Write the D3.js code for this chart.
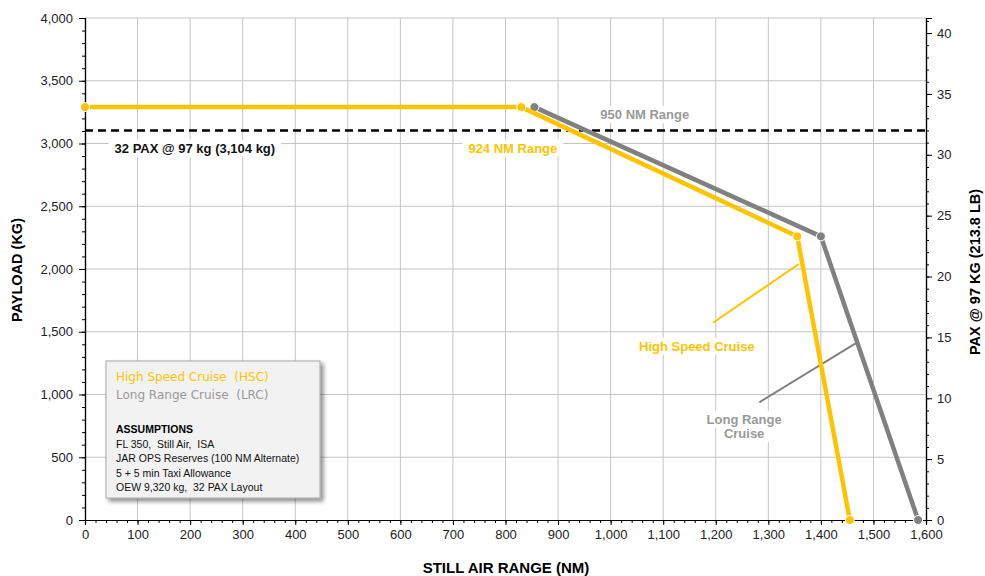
<!DOCTYPE html>
<html><head><meta charset="utf-8">
<script src="https://cdn.jsdelivr.net/npm/d3@7"></script>
<style>
html,body{margin:0;padding:0;background:#fff;}
svg{display:block;font-family:"Liberation Sans",Arial,sans-serif;}
</style></head>
<body>
<svg id="chart" width="985" height="576"></svg>
<script>
// ---- data ----
const hscRange   = [0, 830, 1355, 1455];
const hscPayload = [3290, 3290, 2260, 0];
const lrcRange   = [855, 1400, 1585];
const lrcPayload = [3290, 2260, 0];
const paxLimitKg = 3104;
const paxMassKg  = 97;
const xTicks = [0,100,200,300,400,500,600,700,800,900,1000,1100,1200,1300,1400,1500,1600];
const yTicks = [0,500,1000,1500,2000,2500,3000,3500,4000];
const paxTicks = [0,5,10,15,20,25,30,35,40];
const assumptions = ["FL 350,  Still Air,  ISA","JAR OPS Reserves (100 NM Alternate)","5 + 5 min Taxi Allowance","OEW 9,320 kg,  32 PAX Layout"];

const YEL = "#FFC400", GRY = "#808080", GTXT = "#999999";
const svg = d3.select("#chart");
const L = 85, R = 926, T = 18, B = 520;
const x = d3.scaleLinear().domain([0,1600]).range([L,R]);
const y = d3.scaleLinear().domain([0,4000]).range([B,T]);
const y2 = d3.scaleLinear().domain([0,4000/paxMassKg]).range([B,T]);

const defs = svg.append("defs");
const f = defs.append("filter").attr("id","sh").attr("x","-10%").attr("y","-10%").attr("width","130%").attr("height","130%");
f.append("feDropShadow").attr("dx",3).attr("dy",3).attr("stdDeviation",2).attr("flood-color","#000").attr("flood-opacity",0.45);

// grid
const g = svg.append("g");
g.selectAll(".vg").data(xTicks.filter(d=>d>0 && d<1600)).join("line")
  .attr("x1",d=>x(d)).attr("x2",d=>x(d)).attr("y1",T).attr("y2",B)
  .attr("stroke","#c4c4c4").attr("stroke-width",1);
g.selectAll(".hg").data(yTicks.filter(d=>d>0)).join("line")
  .attr("x1",L).attr("x2",R).attr("y1",d=>y(d)).attr("y2",d=>y(d))
  .attr("stroke","#c4c4c4").attr("stroke-width",1);

// axes
function styleAxis(sel){
  sel.select(".domain").attr("stroke","#000").attr("stroke-width",1.2);
  sel.selectAll(".tick line").attr("stroke","#000");
  sel.selectAll(".tick text").attr("fill","#222").style("font-size","13px").style("font-family","'Liberation Sans',Arial,sans-serif");
}
const minorX = d3.range(0,1601,20), minorY = d3.range(0,4001,100), minorP = d3.range(0,42,1);
svg.append("g").attr("transform",`translate(0,${B})`).call(d3.axisBottom(x).tickValues(minorX).tickSize(3).tickFormat("")).call(styleAxis);
svg.append("g").attr("transform",`translate(${L},0)`).call(d3.axisLeft(y).tickValues(minorY).tickSize(3).tickFormat("")).call(styleAxis);
svg.append("g").attr("transform",`translate(${R},0)`).call(d3.axisRight(y2).tickValues(minorP).tickSize(3).tickFormat("")).call(styleAxis);

const fmt = d3.format(",");
svg.append("g").attr("transform",`translate(0,${B})`).call(d3.axisBottom(x).tickValues(xTicks).tickSize(5).tickPadding(5).tickFormat(fmt)).call(styleAxis);
svg.append("g").attr("transform",`translate(${L},0)`).call(d3.axisLeft(y).tickValues(yTicks).tickSize(6).tickPadding(6).tickFormat(fmt)).call(styleAxis);
svg.append("g").attr("transform",`translate(${R},0)`).call(d3.axisRight(y2).tickValues(paxTicks).tickSize(6).tickPadding(5).tickFormat(d3.format("d"))).call(styleAxis);

// axis titles
svg.append("text").attr("x",506).attr("y",573).attr("text-anchor","middle")
  .style("font-weight","bold").style("font-size","15px").attr("fill","#000").text("STILL AIR RANGE (NM)");
svg.append("text").attr("transform","translate(22,270) rotate(-90)").attr("text-anchor","middle")
  .style("font-weight","bold").style("font-size","14.5px").attr("fill","#000").text("PAYLOAD (KG)");
svg.append("text").attr("transform","translate(980,272) rotate(-90)").attr("text-anchor","middle")
  .style("font-weight","bold").style("font-size","14.5px").attr("fill","#000").text("PAX @ 97 KG (213.8 LB)");

// labels with white background
const bgLayer = svg.append("g"), txtLayer = svg.append("g");
function label(txt, cx, cy, color){
  const t = txtLayer.append("text").attr("x",x(cx)).attr("y",y(cy)).attr("text-anchor","middle")
    .style("font-weight","bold").style("font-size","13px").attr("fill",color).text(txt);
  const bb = t.node().getBBox();
  bgLayer.append("rect").attr("x",bb.x-6).attr("y",bb.y-1).attr("width",bb.width+12).attr("height",bb.height+2).attr("fill","#fff");
  return t;
}
label("32 PAX @ 97 kg (3,104 kg)", 209, 2927, "#111");
label("950 NM Range", 1065, 3195, GTXT);
label("924 NM Range", 814, 2927, YEL);
label("High Speed Cruise", 1164, 1349, YEL);
label("Long Range", 1254, 765, GTXT);
label("Cruise", 1254, 653, GTXT);

// dashed PAX limit
svg.append("line").attr("x1",x(0)).attr("x2",x(1600)).attr("y1",y(paxLimitKg)).attr("y2",y(paxLimitKg))
  .attr("stroke","#000").attr("stroke-width",2.6).attr("stroke-dasharray","8,5");

// leader lines
svg.append("line").attr("x1",x(1195)).attr("y1",y(1572)).attr("x2",x(1358)).attr("y2",y(2040)).attr("stroke",YEL).attr("stroke-width",2);
svg.append("line").attr("x1",x(1283)).attr("y1",y(938)).attr("x2",x(1466)).attr("y2",y(1408)).attr("stroke",GRY).attr("stroke-width",2);

// series
const line = d3.line().x(d=>x(d[0])).y(d=>y(d[1]));
function series(rs, ps, color){
  const pts = rs.map((r,i)=>[r, ps[i]]);
  svg.append("path").datum(pts).attr("d",line).attr("fill","none").attr("stroke",color).attr("stroke-width",4.5).attr("stroke-linejoin","round");
  svg.append("g").selectAll("circle").data(pts).join("circle")
    .attr("cx",d=>x(d[0])).attr("cy",d=>y(d[1])).attr("r",4.5).attr("fill",color).attr("stroke","#fff").attr("stroke-width",1);
}
series(lrcRange, lrcPayload, GRY);
series(hscRange, hscPayload, YEL);

// legend box
const lg = svg.append("g");
lg.append("rect").attr("x",106).attr("y",361).attr("width",214).attr("height",137)
  .attr("fill","#f2f2f2").attr("stroke","#a6a6a6").attr("stroke-width",1).attr("filter","url(#sh)");
lg.append("text").attr("x",116).attr("y",381).attr("fill",YEL).style("font-family","'DejaVu Sans',Verdana,sans-serif").style("font-size","12px").style("white-space","pre").text("High Speed Cruise  (HSC)");
lg.append("text").attr("x",116).attr("y",399).attr("fill",GTXT).style("font-family","'DejaVu Sans',Verdana,sans-serif").style("font-size","12px").style("white-space","pre").text("Long Range Cruise  (LRC)");
lg.append("text").attr("x",116).attr("y",433).attr("fill","#000").style("font-weight","bold").style("font-size","10.5px").text("ASSUMPTIONS");
lg.selectAll(".as").data(assumptions).join("text").attr("x",116).attr("y",(d,i)=>448+i*14.3)
  .attr("fill","#111").style("font-size","10.5px").style("white-space","pre").text(d=>d);
</script>
</body></html>
